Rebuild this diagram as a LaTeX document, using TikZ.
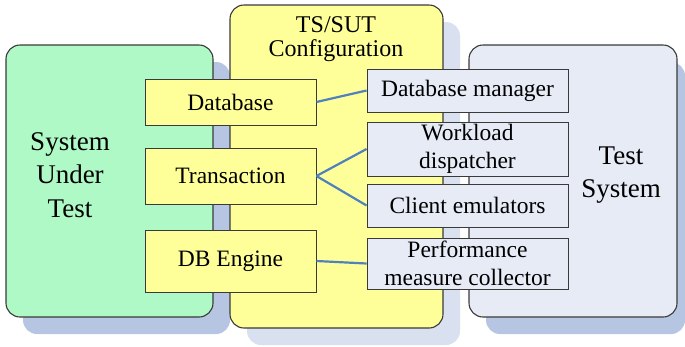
\documentclass[tikz,border=0pt]{standalone}
\usepackage{fontspec}
\setmainfont{Liberation Serif}
\definecolor{sutgreen}{HTML}{AEF9C6}
\definecolor{cfgyellow}{HTML}{FFFF99}
\definecolor{tsblue}{HTML}{E6EBF6}
\definecolor{shadowdark}{HTML}{B6C6E2}
\definecolor{shadowlight}{HTML}{D9E1F0}
\definecolor{linkblue}{HTML}{4F81BD}
\definecolor{edge}{HTML}{3A3A3A}
\tikzset{
  bigbox/.style={draw=edge, line width=1.1pt, rounded corners=14pt},
  shadowbox/.style={rounded corners=14pt},
  sbox/.style={draw=edge, line width=0.9pt, rectangle, inner sep=0pt, align=center,
     font=\fontsize{23.5}{28.5}\selectfont},
  ybox/.style={sbox, fill=cfgyellow, minimum width=171pt},
  bbox/.style={sbox, fill=tsblue, minimum width=201pt},
  bigtext/.style={align=center, font=\fontsize{27}{33.5}\selectfont, inner sep=0pt},
  link/.style={draw=linkblue, line width=2.2pt}
}
\begin{document}
\begin{tikzpicture}[x=1pt,y=-1pt]
\useasboundingbox (0,0) rectangle (685,346);
% shadows and big boxes
\fill[shadowdark, shadowbox] (23,62) rectangle (230,334);
\draw[bigbox, fill=sutgreen] (6,45) rectangle (213,317);
\fill[shadowlight, shadowbox] (247,22) rectangle (460,345);
\draw[bigbox, fill=cfgyellow] (230,5) rectangle (443,328);
\fill[shadowdark, shadowbox] (486,62) rectangle (685,334);
\draw[bigbox, fill=tsblue] (469,45) rectangle (677,317);
% big labels
\node[bigtext] (sutlabel) at (70,175) {System\\Under\\Test};
\node[bigtext] (tslabel) at (621,175) {Test\\System};
\node[align=center, inner sep=0pt, font=\fontsize{24}{24}\selectfont] (cfglabel) at (336,39) {TS/SUT\\Configuration};
% small boxes
\node[ybox, minimum height=46pt] (db) at (230.5,102) {Database};
\node[ybox, minimum height=56pt] (tr) at (230.5,176) {Transaction};
\node[ybox, minimum height=62pt] (eng) at (230.5,261) {DB Engine};
\node[bbox, minimum height=43pt] (dbm) at (467.5,90.5) {Database manager};
\node[bbox, minimum height=54pt] (wd) at (467.5,149) {Workload\\dispatcher};
\node[bbox, minimum height=43pt] (ce) at (467.5,205.5) {Client emulators};
\node[bbox, minimum height=51pt] (pm) at (467.5,263.5) {Performance\\measure collector};
% links
\draw[link] (db.east) -- (dbm.west);
\draw[link] (tr.east) -- (wd.west);
\draw[link] (tr.east) -- (ce.west);
\draw[link] (eng.east) -- (pm.west);
\end{tikzpicture}
\end{document}
